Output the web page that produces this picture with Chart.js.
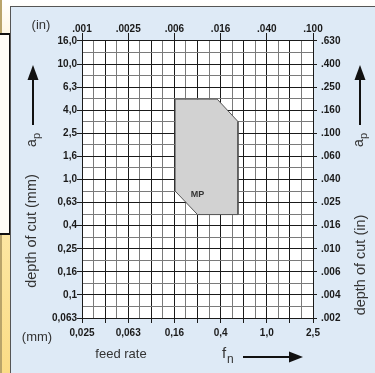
<!DOCTYPE html>
<html>
<head>
<meta charset="utf-8">
<script src="https://cdn.jsdelivr.net/npm/chart.js@4/dist/chart.umd.min.js"></script>
<style>
  html, body { margin: 0; padding: 0; }
  body { width: 375px; height: 373px; position: relative; overflow: hidden;
         background: linear-gradient(to bottom, #ffffff 0px, #fff6df 40px, #fde9a8 200px, #fbdc86 373px); }
  #edge { position: absolute; left: 0; top: 0; width: 2px; height: 373px; background: #b9a46a; }
  #box { position: absolute; left: -4px; top: 33px; width: 11px; height: 198px;
         border: 2px solid #111; background: #fffdf6; }
  #panel { position: absolute; left: 10px; top: 6px; right: -4px; bottom: -4px;
           background: #deeaf6; border-left: 1.5px solid #555; border-top: 1.5px solid #555; }
  canvas { position: absolute; left: 0; top: 0; }
</style>
</head>
<body>
<div id="edge"></div>
<div id="box"></div>
<div id="panel"></div>
<canvas id="chart" width="375" height="373"></canvas>
<script>
// feed rate fn (mm/rev) - bottom axis, and inch equivalents on top
const xLabels = ['0,025', '0,063', '0,16', '0,4', '1,0', '2,5'];
const xTopLabels = ['.001', '.0025', '.006', '.016', '.040', '.100'];
// depth of cut ap (mm) - left axis, inches on the right
const yLabels = ['0,063', '0,1', '0,16', '0,25', '0,4', '0,63', '1,0', '1,6', '2,5', '4,0', '6,3', '10,0', '16,0'];
const yRightLabels = ['.002', '.004', '.006', '.010', '.016', '.025', '.040', '.060', '.100', '.160', '.250', '.400', '.630'];

// MP working area (feed mm, depth mm), closed outline
const mpFeed  = [0.16, 0.37, 0.56, 0.56, 0.25, 0.16, 0.16];
const mpDepth = [5.0,  5.0,  3.2,  0.5,  0.5,  0.8,  5.0];
const mpLabel = { x: 0.25, y: 0.74, text: 'MP' };

const xMin = 0.025, xDecades = 2.0;
const yMin = 0.0635, yDecades = 2.4;
const xMax = xMin * Math.pow(10, xDecades);
const yMax = yMin * Math.pow(10, yDecades);

// grid lines every 0.1 decade
const gridSteps = (min, decades, step) => {
    const out = [];
    const n = Math.round(decades / step);
    for (let i = 0; i <= n; i++) out.push(min * Math.pow(10, i * step));
    return out;
};

const black = '#1a1a1a';
const gray = '#7a7a7a';
const tickFont = { family: "'Liberation Sans', Arial, sans-serif", size: 10, weight: 'bold' };
const textColor = '#333';

const bgPlugin = {
    id: 'bg',
    beforeDraw(chart) {
        const { ctx, chartArea: a } = chart;
        ctx.save();
        ctx.fillStyle = '#ffffff';
        ctx.fillRect(a.left, a.top, a.right - a.left, a.bottom - a.top);
        ctx.restore();
    }
};

function arrow(ctx, x1, y1, x2, y2, head, half) {
    const ang = Math.atan2(y2 - y1, x2 - x1);
    const bx = x2 - head * Math.cos(ang), by = y2 - head * Math.sin(ang);
    ctx.beginPath();
    ctx.moveTo(x1, y1);
    ctx.lineTo(bx, by);
    ctx.stroke();
    ctx.beginPath();
    ctx.moveTo(x2, y2);
    ctx.lineTo(bx + half * Math.sin(ang), by - half * Math.cos(ang));
    ctx.lineTo(bx - half * Math.sin(ang), by + half * Math.cos(ang));
    ctx.closePath();
    ctx.fill();
}

function vText(ctx, text, x, y, size) {
    ctx.save();
    ctx.translate(x, y);
    ctx.rotate(-Math.PI / 2);
    ctx.font = size + "px 'Liberation Sans', Arial, sans-serif";
    ctx.textAlign = 'center';
    ctx.textBaseline = 'middle';
    ctx.fillText(text, 0, 0);
    ctx.restore();
}

function apLabel(ctx, x, y) {
    ctx.save();
    ctx.translate(x, y);
    ctx.rotate(-Math.PI / 2);
    ctx.textBaseline = 'alphabetic';
    ctx.textAlign = 'left';
    ctx.font = "14px 'Liberation Sans', Arial, sans-serif";
    ctx.fillText('a', -7, 4);
    ctx.font = "11px 'Liberation Sans', Arial, sans-serif";
    ctx.fillText('p', 1, 8);
    ctx.restore();
}

const textPlugin = {
    id: 'texts',
    afterDraw(chart) {
        const ctx = chart.ctx;
        const sx = chart.scales.x, sy = chart.scales.y;
        ctx.save();
        // MP label
        ctx.fillStyle = '#333';
        ctx.font = "bold 9px 'Liberation Sans', Arial, sans-serif";
        ctx.textAlign = 'center';
        ctx.textBaseline = 'middle';
        ctx.fillText(mpLabel.text, sx.getPixelForValue(mpLabel.x), sy.getPixelForValue(mpLabel.y));

        ctx.fillStyle = textColor;
        ctx.font = "13px 'Liberation Sans', Arial, sans-serif";
        ctx.fillText('(in)', 41, 25);
        ctx.fillText('(mm)', 37, 337);
        ctx.fillText('feed rate', 121, 354);

        ctx.textAlign = 'left';
        ctx.textBaseline = 'alphabetic';
        ctx.font = "15px 'Liberation Sans', Arial, sans-serif";
        ctx.fillText('f', 222, 358);
        ctx.font = "12px 'Liberation Sans', Arial, sans-serif";
        ctx.fillText('n', 227, 363);

        ctx.fillStyle = '#111';
        ctx.strokeStyle = '#111';
        ctx.lineWidth = 2;
        arrow(ctx, 243, 357, 303, 357, 14, 5.5);
        arrow(ctx, 33, 125, 33, 65, 15, 5.5);
        arrow(ctx, 360, 125, 360, 65, 15, 5.5);

        ctx.fillStyle = textColor;
        apLabel(ctx, 32, 140);
        apLabel(ctx, 359, 140);
        vText(ctx, 'depth of cut (mm)', 32, 231, 14.5);
        vText(ctx, 'depth of cut (in)', 361, 265, 14.5);
        ctx.restore();
    }
};

const xGrid = gridSteps(xMin, xDecades, 0.1);
const xMajor = gridSteps(xMin, xDecades, 0.4);
const yGrid = gridSteps(yMin, yDecades, 0.1);
const yMajor = gridSteps(yMin, yDecades, 0.2);

new Chart(document.getElementById('chart'), {
    type: 'scatter',
    data: {
        datasets: [{
            data: mpFeed.map((f, i) => ({ x: f, y: mpDepth[i] })),
            showLine: true,
            fill: 'shape',
            tension: 0,
            backgroundColor: '#d2d2d2',
            borderColor: '#555',
            borderWidth: 1,
            pointRadius: 0,
            xAxisID: 'x',
            yAxisID: 'y'
        }]
    },
    options: {
        responsive: false,
        animation: false,
        devicePixelRatio: 1,
        layout: { padding: 0 },
        plugins: { legend: { display: false }, tooltip: { enabled: false } },
        scales: {
            x: {
                type: 'logarithmic', position: 'bottom', min: xMin, max: xMax,
                afterBuildTicks: s => { s.ticks = xGrid.map(v => ({ value: v })); },
                afterFit: s => { s.height = 55; },
                ticks: {
                    autoSkip: false, maxRotation: 0, padding: 4, color: black, font: tickFont,
                    callback: (v, i) => (i % 4 === 0 ? xLabels[i / 4] : '')
                },
                grid: {
                    color: c => (c.index % 2 ? gray : black),
                    tickColor: c => (c.index % 2 ? 'rgba(0,0,0,0)' : black),
                    tickLength: 5, lineWidth: 1
                },
                border: { color: black, width: 1 }
            },
            x2: {
                type: 'logarithmic', position: 'top', min: xMin, max: xMax,
                afterBuildTicks: s => { s.ticks = xMajor.map(v => ({ value: v })); },
                afterFit: s => { s.height = 41; },
                ticks: {
                    autoSkip: false, maxRotation: 0, padding: -2, color: black, font: tickFont,
                    callback: (v, i) => xTopLabels[i]
                },
                grid: { drawOnChartArea: false, color: black, tickLength: 8, lineWidth: 1 },
                border: { display: false }
            },
            y: {
                type: 'logarithmic', position: 'left', min: yMin, max: yMax,
                afterBuildTicks: s => { s.ticks = yGrid.map(v => ({ value: v })); },
                afterFit: s => { s.width = 82; },
                ticks: {
                    autoSkip: false, padding: 0, color: black, font: tickFont,
                    callback: (v, i) => (i % 2 === 0 ? yLabels[i / 2] : '')
                },
                grid: {
                    color: c => (c.index % 2 ? gray : black),
                    tickColor: c => (c.index % 2 ? 'rgba(0,0,0,0)' : black),
                    tickLength: 5, lineWidth: 1
                },
                border: { color: black, width: 1 }
            },
            y2: {
                type: 'logarithmic', position: 'right', min: yMin, max: yMax,
                afterBuildTicks: s => { s.ticks = yMajor.map(v => ({ value: v })); },
                afterFit: s => { s.width = 62; },
                ticks: {
                    autoSkip: false, padding: 4, color: black, font: tickFont,
                    callback: (v, i) => yRightLabels[i]
                },
                grid: { drawOnChartArea: false, color: black, tickLength: 4, lineWidth: 1 },
                border: { display: false }
            }
        }
    },
    plugins: [bgPlugin, textPlugin]
});
</script>
</body>
</html>
